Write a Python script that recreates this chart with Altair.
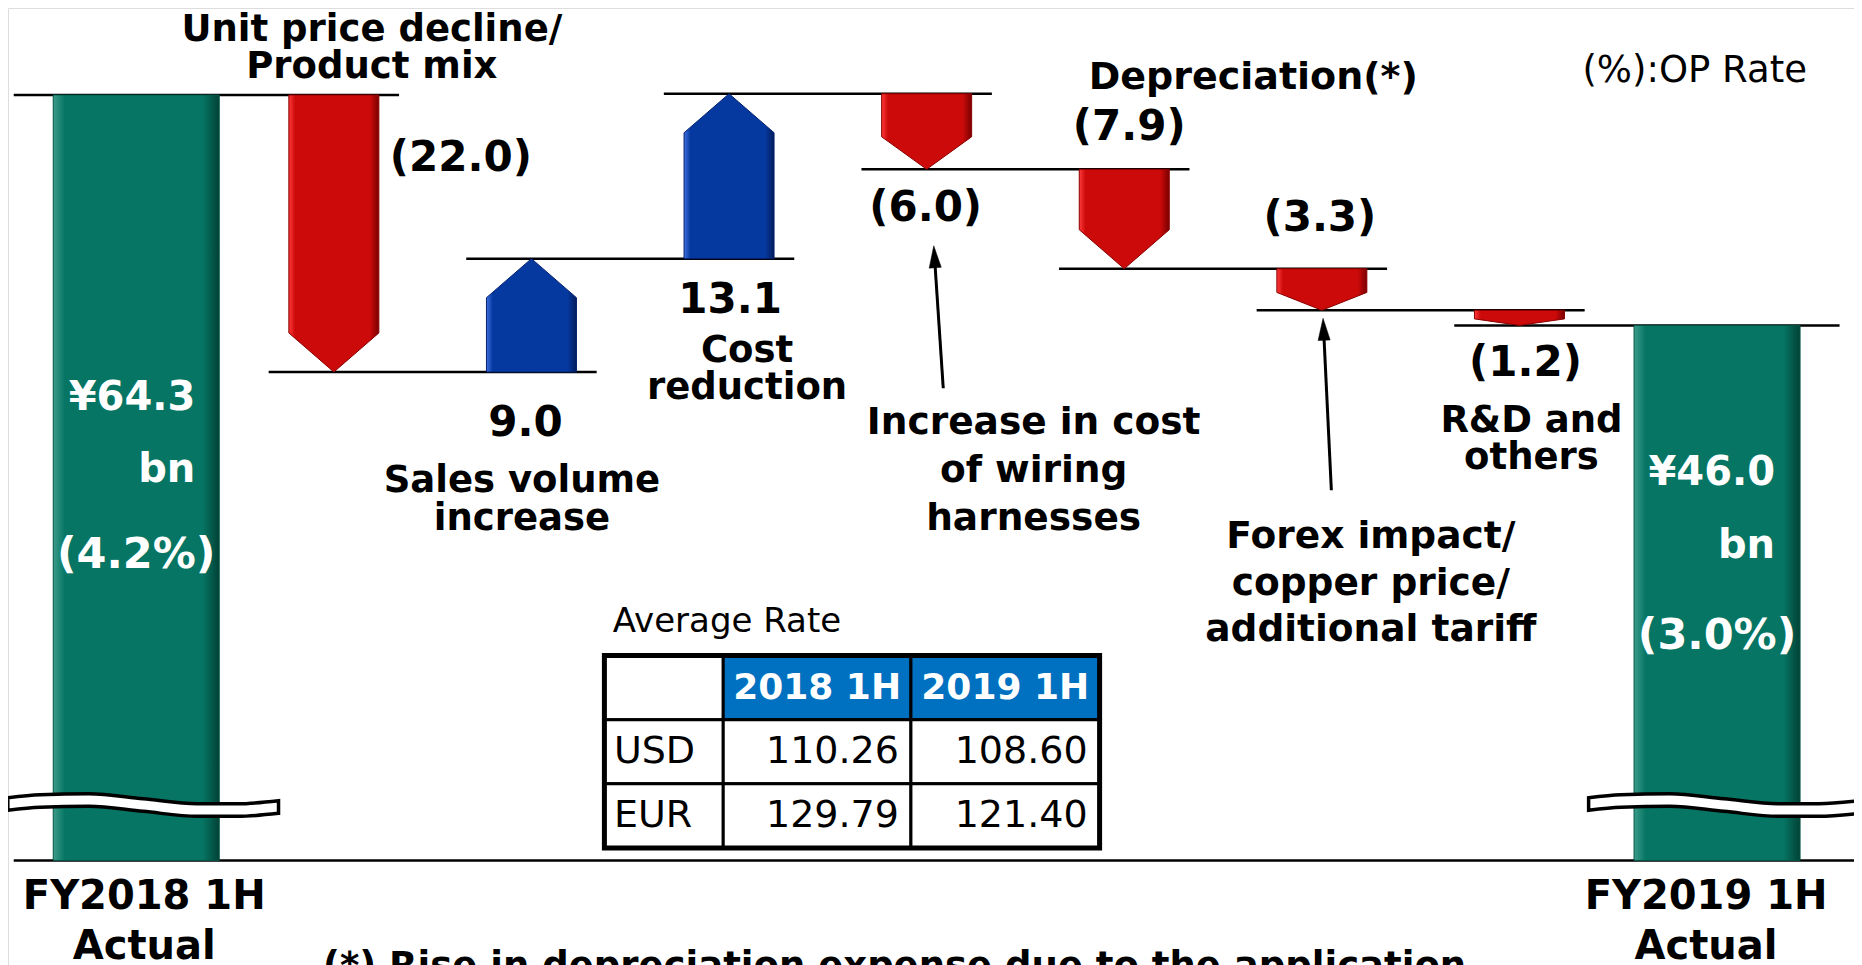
import math
import altair as alt
import pandas as pd

# ---------------- data ----------------
step_names = [
    "FY2018 1H Actual",
    "Unit price decline/Product mix",
    "Sales volume increase",
    "Cost reduction",
    "Increase in cost of wiring harnesses",
    "Depreciation(*)",
    "Forex impact/copper price/additional tariff",
    "R&D and others",
    "FY2019 1H Actual",
]
step_kinds = ["total", "delta", "delta", "delta", "delta", "delta", "delta", "delta", "total"]
step_values = [64.3, -22.0, 9.0, 13.1, -6.0, -7.9, -3.3, -1.2, 46.0]
value_labels = ["¥64.3", "(22.0)", "9.0", "13.1", "(6.0)", "(7.9)", "(3.3)", "(1.2)", "¥46.0"]
op_rate_labels = ["(4.2%)", "(3.0%)"]
caption_lines = [
    ["FY2018 1H", "Actual"],
    ["Unit price decline/", "Product mix"],
    ["Sales volume", "increase"],
    ["Cost", "reduction"],
    ["Increase in cost", "of wiring", "harnesses"],
    ["Depreciation(*)"],
    ["Forex impact/", "copper price/", "additional tariff"],
    ["R&D and", "others"],
    ["FY2019 1H", "Actual"],
]
unit_text = "bn"
legend_note = "(%):OP Rate"
footnote = "(*) Rise in depreciation expense due to the application"
rate_title = "Average Rate"
rate_periods = ["2018 1H", "2019 1H"]
rate_currencies = ["USD", "EUR"]
rate_2018 = ["110.26", "129.79"]
rate_2019 = ["108.60", "121.40"]

# ---------------- waterfall from data ----------------
starts, ends = [], []
running = 0.0
for kind, v in zip(step_kinds, step_values):
    if kind == "total":
        starts.append(None)
        running = v
    else:
        starts.append(running)
        running = round(running + v, 1)
    ends.append(running)

# ---------------- layout / style ----------------
W, H = 1846, 1000
X0, X1 = -0.649, 8.693
Y0, Y1 = -8.22, 71.21
PXX = W / (X1 - X0)
PXY = H / (Y1 - Y0)
BREAK_BASE = 3.5
BREAK_LEVEL = 7.9
TOTAL_HW = 83 / PXX
ARROW_HW = 45 / PXX
OVERHANG = {"total": 0.62, "delta": 0.33}
FONT = "DejaVu Sans"

GREEN = ("#3c9c8a", "#067563", "#024236")
RED = ("#ff3a3a", "#cc0a0a", "#7a0000")
BLUE = ("#3f6fe0", "#0639a0", "#021c5c")
HDR_BLUE = "#0070c0"


def hgrad(c):
    light, base, dark = c
    return alt.LinearGradient(
        gradient="linear", x1=0, x2=1, y1=0, y2=0,
        stops=[alt.GradientStop(color=light, offset=0),
               alt.GradientStop(color=base, offset=0.07),
               alt.GradientStop(color=base, offset=0.9),
               alt.GradientStop(color=dark, offset=1)])


xs = alt.Scale(domain=[X0, X1], nice=False, zero=False)
ys = alt.Scale(domain=[Y0, Y1], nice=False, zero=False)


def ex(f):
    return alt.X(f"{f}:Q", scale=xs, axis=None)


def ey(f):
    return alt.Y(f"{f}:Q", scale=ys, axis=None)


def anchor_value(i, anchor):
    if anchor == "start":
        return starts[i]
    if anchor == "end":
        return ends[i]
    return BREAK_BASE


# ---- totals (green bars) ----
tot = pd.DataFrame([dict(i=i, xa=i - TOTAL_HW, xb=i + TOTAL_HW, ya=BREAK_BASE, yb=ends[i])
                    for i, k in enumerate(step_kinds) if k == "total"])
tot_layer = alt.Chart(tot).mark_rect(fill=hgrad(GREEN), stroke="#035445", strokeWidth=1).encode(
    x=ex("xa"), x2=alt.X2("xb"), y=ey("ya"), y2=alt.Y2("yb"))

# ---- delta arrows ----
arrow_rows = []
for i, (k, v) in enumerate(zip(step_kinds, step_values)):
    if k != "delta":
        continue
    s, e = starts[i], ends[i]
    sgn = 1 if v > 0 else -1
    tip = min(0.43 * abs(v), 3.1)
    shoulder = e - sgn * tip
    for xx, yy in [(i - ARROW_HW, shoulder), (i, e), (i + ARROW_HW, shoulder)]:
        arrow_rows.append(dict(id=i, up=v > 0, x=xx, ya=s, yb=yy))
arr = pd.DataFrame(arrow_rows)


def arrow_layer(df, col, stroke):
    return alt.Chart(df).mark_area(orient="vertical", fill=hgrad(col), stroke=stroke, strokeWidth=1,
                                   interpolate="linear").encode(
        x=ex("x"), y=ey("ya"), y2=alt.Y2("yb"), detail="id:N")


red_layer = arrow_layer(arr[~arr["up"]], RED, "#8a0000")
blue_layer = arrow_layer(arr[arr["up"]], BLUE, "#03216e")

# ---- connector lines ----
conn = pd.DataFrame([dict(xa=i - OVERHANG[step_kinds[i]], xb=i + 1 + OVERHANG[step_kinds[i + 1]], y=ends[i])
                     for i in range(len(step_values) - 1)])
conn_layer = alt.Chart(conn).mark_rule(color="black", strokeWidth=2.5).encode(
    x=ex("xa"), x2=alt.X2("xb"), y=ey("y"))

base_df = pd.DataFrame([dict(xa=-0.62, xb=X1, y=BREAK_BASE)])
base_layer = alt.Chart(base_df).mark_rule(color="black", strokeWidth=2.5).encode(
    x=ex("xa"), x2=alt.X2("xb"), y=ey("y"))

# ---- axis-break squiggles ----
WAVE_T = [0, 0.12, 0.3, 0.5, 0.7, 0.85, 1.0]
WAVE_PX = [-1, -4, -5, 0, 5, 5, 2]
BREAK_SPAN = (-0.65, 0.72)
BREAK_HALF = 0.5
sq_rows = []
for i, k in enumerate(step_kinds):
    if k != "total":
        continue
    a, b = i + BREAK_SPAN[0], i + BREAK_SPAN[1]
    for t, off in zip(WAVE_T, WAVE_PX):
        c = BREAK_LEVEL - off / PXY
        sq_rows.append(dict(id=i, x=a + (b - a) * t, ya=c + BREAK_HALF, yb=c - BREAK_HALF))
sq_layer = alt.Chart(pd.DataFrame(sq_rows)).mark_area(
    orient="vertical", fill="white", stroke="black", strokeWidth=3.5, interpolate="monotone").encode(
    x=ex("x"), y=ey("ya"), y2=alt.Y2("yb"), detail="id:N")

# ---- annotation arrows ----
ANNOT = [(4, "end", (16.6, 219), (7.1, 76.5)), (6, "end", (9.5, 180), (1.2, 8))]
HEAD = 22
ann_lines, ann_heads = [], []
for i, anchor, (bx, by), (tx, ty) in ANNOT:
    av = anchor_value(i, anchor)
    dxp, dyp = bx - tx, by - ty
    L = math.hypot(dxp, dyp)
    hx, hy = tx + dxp / L * HEAD / 2, ty + dyp / L * HEAD / 2
    ang = math.degrees(math.atan2(-dxp, dyp)) % 360
    ann_lines.append(dict(xa=i + bx / PXX, ya=av - by / PXY, xb=i + hx / PXX, yb=av - hy / PXY))
    ann_heads.append(dict(x=i + hx / PXX, y=av - hy / PXY, angle=ang))
ann_rule = alt.Chart(pd.DataFrame(ann_lines)).mark_rule(color="black", strokeWidth=3).encode(
    x=ex("xa"), y=ey("ya"), x2=alt.X2("xb"), y2=alt.Y2("yb"))
ann_head = alt.Chart(pd.DataFrame(ann_heads)).mark_point(
    shape="M0,-1L0.55,1L-0.55,1Z", filled=True, fill="black", stroke="black", strokeWidth=0.5,
    size=HEAD * HEAD, opacity=1).encode(
    x=ex("x"), y=ey("y"), angle=alt.Angle("angle:Q", scale=None))

# ---- labels ----
labels = []


def add(i, anchor, dx, dy, text, size, color="black", style="bc"):
    av = anchor_value(i, anchor)
    labels.append(dict(x=i + dx / PXX, y=av - dy / PXY, text=text, size=size, color=color, style=style))


# totals
add(0, "end", 59, 303, value_labels[0], 40, "white", "br")
add(0, "end", 59, 375, unit_text, 40, "white", "br")
add(0, "end", 0, 460, op_rate_labels[0], 43, "white")
add(8, "end", 58, 148, value_labels[8], 40, "white", "br")
add(8, "end", 58, 221, unit_text, 40, "white", "br")
add(8, "end", 0, 311, op_rate_labels[1], 43, "white")

VALUE_POS = {1: ("start", 127, 63), 2: ("start", -6, 51), 3: ("start", 1, 41), 4: ("end", -1, 38.5),
             5: ("start", 5, -42), 6: ("start", -2, -51), 7: ("end", 6, 38)}
for i, (anc, dx, dy) in VALUE_POS.items():
    add(i, anc, dx, dy, value_labels[i], 42)

CAPTION_POS = {0: ("base", 8, [37, 87], 40), 1: ("start", 38, [-65, -27.5], 37),
               2: ("start", -9.5, [109.5, 147], 37), 3: ("start", 18, [92, 129.5], 37),
               4: ("end", 107, [253.5, 302, 350], 37.5), 5: ("start", 129, [-91], 38),
               6: ("end", 49, [226.5, 274, 320], 37.5), 7: ("end", 12, [95.5, 133], 37),
               8: ("base", -11, [37, 87], 40)}
for i, (anc, dx, dys, fs) in CAPTION_POS.items():
    for line, dy in zip(caption_lines[i], dys):
        add(i, anc, dx, dy, line, fs)

add(8, "end", -22.4, -254, legend_note, 37, "black", "nc")
add(0, "base", 186.8, 117.5, footnote, 37, "black", "foot")

lab = pd.DataFrame(labels)


def text_layer(style, align, weight, baseline="middle"):
    return alt.Chart(lab[lab["style"] == style]).mark_text(
        align=align, baseline=baseline, font=FONT, fontWeight=weight).encode(
        x=ex("x"), y=ey("y"), text="text:N",
        size=alt.Size("size:Q", scale=None), color=alt.Color("color:N", scale=None))


text_layers = [text_layer("bc", "center", "bold"), text_layer("br", "right", "bold"),
               text_layer("nc", "center", "normal"), text_layer("foot", "left", "bold", "alphabetic")]

main = alt.layer(conn_layer, base_layer, tot_layer, red_layer, blue_layer, sq_layer,
                 ann_rule, ann_head, *text_layers)

# ---------------- rate table ----------------
COL_EDGES = [0, 0.24, 0.619, 1.0]
TBL_PX_W = 495.2
TBL_PX_ROW = 64.13
txs = alt.Scale(domain=[0, 1], range=[596.4, 1091.6], nice=False, zero=False)
tys = alt.Scale(domain=[0, 3], range=[647.5, 839.9], nice=False, zero=False)


def tx(f):
    return alt.X(f"{f}:Q", scale=txs, axis=None)


def ty(f):
    return alt.Y(f"{f}:Q", scale=tys, axis=None)


cells = []
for r in range(3):
    for c in range(3):
        cells.append(dict(xa=COL_EDGES[c], xb=COL_EDGES[c + 1], ya=r, yb=r + 1,
                          fill=HDR_BLUE if (r == 0 and c > 0) else "white"))
cell_layer = alt.Chart(pd.DataFrame(cells)).mark_rect(stroke="black", strokeWidth=3).encode(
    x=tx("xa"), x2=alt.X2("xb"), y=ty("ya"), y2=alt.Y2("yb"), fill=alt.Fill("fill:N", scale=None))
border_layer = alt.Chart(pd.DataFrame([dict(xa=0, xb=1, ya=0, yb=3)])).mark_rect(
    fillOpacity=0, stroke="black", strokeWidth=5).encode(
    x=tx("xa"), x2=alt.X2("xb"), y=ty("ya"), y2=alt.Y2("yb"))

t_rows = []
for c, p in enumerate(rate_periods, start=1):
    t_rows.append(dict(x=(COL_EDGES[c] + COL_EDGES[c + 1]) / 2, y=0.5, text=p, size=36, color="white", style="hdr"))
for r, cur in enumerate(rate_currencies, start=1):
    t_rows.append(dict(x=9.5 / TBL_PX_W, y=r + 0.5, text=cur, size=38, color="black", style="left"))
    t_rows.append(dict(x=COL_EDGES[2] - 12 / TBL_PX_W, y=r + 0.5, text=rate_2018[r - 1], size=38,
                       color="black", style="right"))
    t_rows.append(dict(x=COL_EDGES[3] - 12 / TBL_PX_W, y=r + 0.5, text=rate_2019[r - 1], size=38,
                       color="black", style="right"))
t_rows.append(dict(x=8.4 / TBL_PX_W, y=-33 / TBL_PX_ROW, text=rate_title, size=34, color="black", style="left"))
tdf = pd.DataFrame(t_rows)


def ttext(style, align, weight):
    return alt.Chart(tdf[tdf["style"] == style]).mark_text(
        align=align, baseline="middle", font=FONT, fontWeight=weight).encode(
        x=tx("x"), y=ty("y"), text="text:N",
        size=alt.Size("size:Q", scale=None), color=alt.Color("color:N", scale=None))


table = alt.layer(cell_layer, border_layer, ttext("hdr", "center", "bold"),
                  ttext("left", "left", "normal"), ttext("right", "right", "normal"))

chart = alt.layer(main, table).resolve_scale(x="independent", y="independent").properties(
    width=W, height=H, autosize=alt.AutoSizeParams(type="none"), padding=0
).configure_view(strokeWidth=0).configure(background="white")

chart.save("out.html", embed_options={"renderer": "svg", "actions": False})
